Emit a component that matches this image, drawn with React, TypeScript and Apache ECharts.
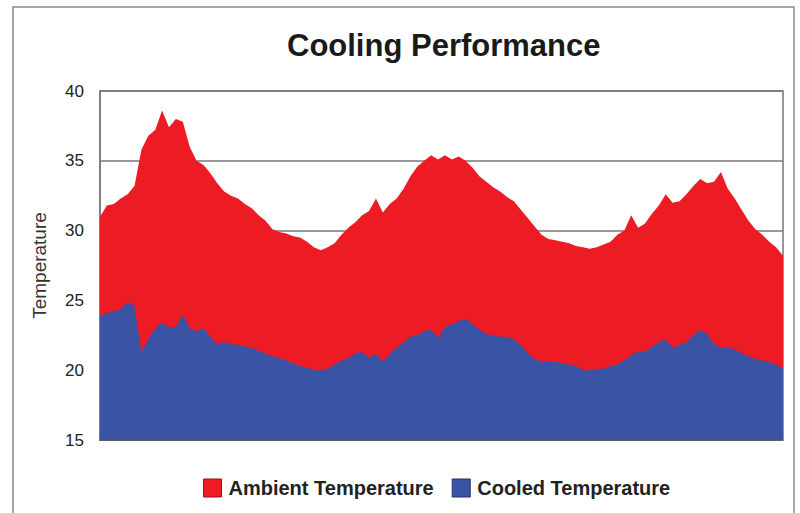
import React, { useEffect, useRef } from "react";
import * as echarts from "echarts";

const ambient = [
  31.0, 31.8, 31.9, 32.3, 32.6, 33.2, 35.8, 36.8, 37.2, 38.6,
  37.4, 38.0, 37.8, 36.0, 35.0, 34.7, 34.1, 33.4, 32.8, 32.5,
  32.3, 31.9, 31.6, 31.1, 30.7, 30.1, 29.9, 29.8, 29.6, 29.5,
  29.2, 28.8, 28.6, 28.8, 29.1, 29.7, 30.2, 30.6, 31.1, 31.4,
  32.3, 31.3, 31.9, 32.3, 33.0, 33.9, 34.6, 35.0, 35.4, 35.1,
  35.4, 35.1, 35.3, 35.0, 34.5, 33.9, 33.5, 33.1, 32.8, 32.4,
  32.1, 31.5, 30.9, 30.3, 29.7, 29.4, 29.3, 29.2, 29.1, 28.9,
  28.8, 28.7, 28.8, 29.0, 29.2, 29.7, 30.0, 31.1, 30.2, 30.5,
  31.2, 31.8, 32.6, 32.0, 32.1, 32.6, 33.2, 33.7, 33.4, 33.5,
  34.2, 33.0, 32.3, 31.5, 30.7, 30.1, 29.7, 29.2, 28.8, 28.2,
];

const cooled = [
  23.9, 24.1, 24.2, 24.4, 24.9, 24.6, 21.3, 22.2, 23.0, 23.4,
  23.1, 23.1, 24.0, 23.0, 22.8, 23.0, 22.4, 21.9, 22.0, 21.9,
  21.8, 21.7, 21.6, 21.4, 21.2, 21.0, 20.9, 20.7, 20.5, 20.3,
  20.2, 20.0, 20.0, 20.1, 20.4, 20.7, 20.9, 21.2, 21.3, 20.9,
  21.2, 20.6, 21.1, 21.6, 22.0, 22.4, 22.5, 22.8, 22.9, 22.3,
  23.1, 23.3, 23.5, 23.7, 23.3, 22.9, 22.6, 22.5, 22.4, 22.4,
  22.2, 21.8, 21.2, 20.8, 20.6, 20.6, 20.6, 20.5, 20.4, 20.3,
  20.0, 20.0, 20.1, 20.1, 20.3, 20.4, 20.7, 21.1, 21.3, 21.3,
  21.7, 22.0, 22.2, 21.6, 21.8, 22.0, 22.5, 22.9, 22.6, 21.9,
  21.6, 21.6, 21.5, 21.2, 21.0, 20.8, 20.7, 20.6, 20.4, 20.1,
];

const categories = ambient.map((_, i) => String(i + 1));
const yMin = 15;
const yMax = 40;
const yStep = 5;

const FONT = "Liberation Sans, Arial, sans-serif";

export default function App() {
  const ref = useRef<HTMLDivElement>(null);
  useEffect(() => {
    if (!ref.current) return;
    const chart = echarts.init(ref.current, undefined, { renderer: "svg" });
    chart.setOption({
      animation: false,
      backgroundColor: "#ffffff",
      textStyle: { fontFamily: FONT },
      title: {
        text: "Cooling Performance",
        left: 282,
        top: 25,
        textStyle: { fontSize: 31, fontWeight: "bold", color: "#1a1a1a", fontFamily: FONT },
      },
      graphic: [
        {
          type: "rect",
          shape: { x: 13, y: 7, width: 781, height: 530 },
          style: { fill: "none", stroke: "#8a8a8a", lineWidth: 1.5 },
          silent: true,
        },
      ],
      legend: {
        left: 198,
        top: 473,
        itemWidth: 18,
        itemHeight: 18,
        itemGap: 18,
        icon: "rect",
        textStyle: { fontSize: 20, fontWeight: "bold", color: "#222", fontFamily: FONT, padding: [0, 0, 0, 2] },
        data: [
          { name: "Ambient Temperature", itemStyle: { color: "#ED1C24", borderColor: "#9a1218", borderWidth: 1 } },
          { name: "Cooled Temperature", itemStyle: { color: "#3A53A4", borderColor: "#22336e", borderWidth: 1 } },
        ],
      },
      grid: {
        left: 100,
        right: 17,
        top: 91,
        bottom: 73,
        show: true,
        borderColor: "#777",
        borderWidth: 1.5,
        backgroundColor: "#ffffff",
      },
      xAxis: {
        type: "category",
        data: categories,
        boundaryGap: false,
        axisLine: { show: true, lineStyle: { color: "#555", width: 1.5 } },
        axisTick: { show: false },
        axisLabel: { show: false },
        splitLine: { show: false },
      },
      yAxis: {
        type: "value",
        min: yMin,
        max: yMax,
        interval: yStep,
        name: "Temperature",
        nameLocation: "middle",
        nameGap: 51,
        nameTextStyle: { fontSize: 19, color: "#333" },
        axisLine: { show: true, lineStyle: { color: "#777", width: 1.5 } },
        axisTick: { show: false },
        axisLabel: { fontSize: 17, color: "#222", margin: 16 },
        splitLine: { show: true, lineStyle: { color: "#777", width: 1.5 } },
      },
      series: [
        {
          name: "Ambient Temperature",
          type: "line",
          data: ambient,
          symbol: "none",
          lineStyle: { width: 0 },
          itemStyle: { color: "#ED1C24" },
          areaStyle: { color: "#ED1C24", opacity: 1, origin: "start" },
          z: 2,
        },
        {
          name: "Cooled Temperature",
          type: "line",
          data: cooled,
          symbol: "none",
          lineStyle: { width: 0 },
          itemStyle: { color: "#3A53A4" },
          areaStyle: { color: "#3A53A4", opacity: 1, origin: "start" },
          z: 3,
        },
      ],
    });
    return () => chart.dispose();
  }, []);
  return (
    <div
      ref={ref}
      style={{ position: "absolute", left: 0, top: 0, width: 800, height: 513 }}
    />
  );
}
